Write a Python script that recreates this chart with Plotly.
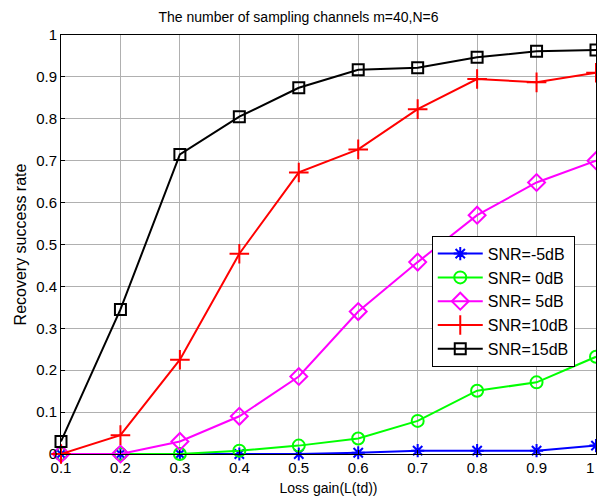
import plotly.graph_objects as go

x = [0.1, 0.2, 0.3, 0.4, 0.5, 0.6, 0.7, 0.8, 0.9, 1.0]
x_labels = ["0.1", "0.2", "0.3", "0.4", "0.5", "0.6", "0.7", "0.8", "0.9", "1"]
y_ticks = [0, 0.1, 0.2, 0.3, 0.4, 0.5, 0.6, 0.7, 0.8, 0.9, 1.0]
y_labels = ["0", "0.1", "0.2", "0.3", "0.4", "0.5", "0.6", "0.7", "0.8", "0.9", "1"]
snr_m5 = [0, 0, 0, 0, 0, 0.003, 0.008, 0.008, 0.008, 0.02]
snr_0 = [0, 0, 0, 0.008, 0.02, 0.037, 0.079, 0.151, 0.171, 0.232]
snr_5 = [0, 0, 0.03, 0.09, 0.185, 0.34, 0.458, 0.57, 0.648, 0.70]
snr_10 = [0, 0.045, 0.225, 0.478, 0.672, 0.727, 0.823, 0.895, 0.887, 0.91]
snr_15 = [0.03, 0.345, 0.715, 0.805, 0.874, 0.917, 0.922, 0.947, 0.961, 0.964]

series = [
    ("SNR=-5dB", snr_m5, "#0000ff", "asterisk-open", 11),
    ("SNR= 0dB", snr_0, "#00ff00", "circle-open", 12),
    ("SNR= 5dB", snr_5, "#ff00ff", "diamond-open", 13),
    ("SNR=10dB", snr_10, "#ff0000", "cross-thin-open", 14),
    ("SNR=15dB", snr_15, "#000000", "square-open", 11),
]

fig = go.Figure()
for name, ys, col, sym, sz in series:
    fig.add_trace(go.Scatter(
        x=x, y=ys, name=name, mode="lines+markers",
        line=dict(color=col, width=2),
        marker=dict(symbol=sym, size=sz, color=col, line=dict(color=col, width=2)),
        cliponaxis=False,
    ))

fam = "Liberation Sans, Arial, sans-serif"
fig.update_layout(
    width=597, height=499,
    margin=dict(l=61, r=1, t=35, b=45, autoexpand=False),
    paper_bgcolor="white", plot_bgcolor="white",
    font=dict(family=fam, size=15, color="black"),
    title=dict(text="The number of sampling channels m=40,N=6", x=0.5, xanchor="center",
               y=0.966, yanchor="middle", font=dict(family=fam, size=14)),
    legend=dict(x=0.693, y=0.521, xanchor="left", yanchor="top",
                bgcolor="white", bordercolor="black", borderwidth=1,
                font=dict(family=fam, size=16), tracegroupgap=0, itemwidth=45),
    showlegend=True,
    annotations=[dict(x=1.0, y=0, xref="x", yref="y", text=x_labels[-1], showarrow=False,
                      xanchor="right", yanchor="top", yshift=-3, font=dict(family=fam, size=15))],
)
fig.update_xaxes(range=[0.1, 1.0], tickvals=x[:-1], ticktext=x_labels[:-1],
                 showgrid=True, gridcolor="#b0b0b0", gridwidth=1,
                 showline=True, linecolor="black", linewidth=1, mirror=True,
                 ticks="inside", ticklen=4, tickcolor="black", zeroline=False,
                 tickfont=dict(family=fam, size=15),
                 title=dict(text="Loss gain(L(td))", standoff=8, font=dict(family=fam, size=14)))
fig.update_yaxes(range=[0, 1.0], tickvals=y_ticks, ticktext=y_labels,
                 showgrid=True, gridcolor="#b0b0b0", gridwidth=1,
                 showline=True, linecolor="black", linewidth=1, mirror=True,
                 ticks="inside", ticklen=4, tickcolor="black", zeroline=False,
                 tickfont=dict(family=fam, size=15),
                 title=dict(text="Recovery success rate", standoff=5, font=dict(family=fam, size=16)))
fig.write_html("out.html")
